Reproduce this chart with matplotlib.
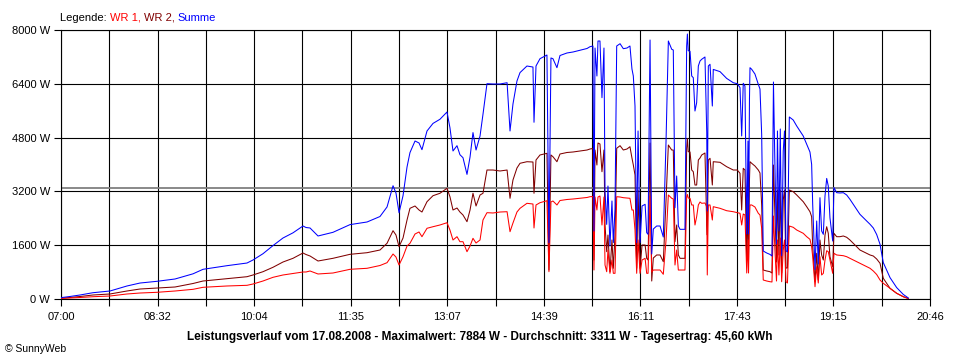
import matplotlib
matplotlib.use("Agg")
import matplotlib.pyplot as plt
from matplotlib.offsetbox import TextArea, HPacker, AnchoredOffsetbox
import numpy as np

# ---- data: minutes after 07:00, power in W ----
minutes = [
    0, 8.6, 18.1, 30.4, 46.6, 62.7, 75.1, 91.2, 108.4, 125.5, 135.0, 157.8, 176.8, 182.5,
    192.0, 201.5, 211.0, 220.5, 230.0, 232.9, 236.7,
    244.3, 258.5, 274.7, 290.9, 303.2, 309.9, 315.6, 318.4, 321.3, 325.1, 328.9, 331.7,
    336.5, 340.3, 343.1, 347.9, 353.6, 360.2, 366.9, 369.7, 372.6, 376.4, 379.2,
    382.1, 385.9, 388.8, 391.6, 394.5, 398.3, 401.1, 404.9, 410.6, 417.3, 424.0, 426.8,
    429.6, 433.4, 436.3, 442.9, 448.6, 449.6, 451.5, 455.3, 461.9, 463.8, 465.7, 467.6,
    471.4, 474.3, 480.9, 486.7, 493.3, 500.0, 502.8, 505.6, 506.6, 507.6,
    509.4, 510.4, 512.3, 514.2, 516.1, 517.1, 518.7, 519.9, 521.8, 523.7, 525.0, 526.6,
    528.2, 531.4, 534.5, 538.0, 540.8, 542.7, 544.0, 545.6, 547.2, 548.5, 550.4, 552.3,
    555.2, 556.7, 558.0, 559.9, 561.5, 563.0, 566.2, 569.4, 572.5, 575.1, 577.3, 580.5,
    582.0, 583.6, 585.2, 586.8, 588.4, 593.1,
    594.7, 595.4, 596.2, 597.9, 599.5, 601.0, 602.6, 604.2, 605.8, 607.4, 609.0, 612.1,
    613.8, 614.3, 615.3, 616.9, 619.1, 620.0, 626.4, 632.7, 639.0, 642.8, 645.4, 647.0,
    648.5, 650.1, 651.8, 653.0, 653.5, 654.4, 654.9, 656.5, 659.6, 662.8, 664.4, 666.0,
    667.5, 670.8, 673.9, 675.8, 677.2, 678.6, 680.1, 681.0, 682.4, 683.7, 685.0, 686.5,
    687.7, 689.1, 690.5, 692.3,
    696.0, 699.3, 702.4, 705.5, 708.8, 711.9, 713.5, 714.5, 716.7, 718.3, 719.8, 721.4,
    723.0, 724.6, 726.2, 727.8, 729.3, 730.9, 733.5, 734.7, 737.3, 740.4, 743.6, 746.8,
    749.9, 753.1, 756.3, 759.4, 762.6, 765.8, 769.0, 772.1, 775.3, 778.5, 781.6, 788.0,
    794.3, 800.6, 805.4,
]

wr1 = [
    20, 30, 45, 68, 89, 149, 178, 199, 238, 288, 348, 387, 407, 446,
    535, 645, 714, 758, 803, 803, 833,
    744, 773, 883, 913, 996, 1080, 1338, 1249, 1011, 1258, 1576, 1657,
    1933, 1993, 1853, 2103, 2150, 2201, 2269, 2052, 1755, 1853, 1704,
    1704, 1407, 1576, 1805, 1665, 1755, 2349, 2567, 2558, 2587, 2596, 2002,
    2260, 2587, 2697, 2846, 2825, 2112, 2796, 2864, 2923, 812, 2885, 2915,
    2796, 2929, 2959, 2974, 2995, 3019, 3042, 3048, 862, 3033,
    2647, 3033, 3063, 2201, 3033, 1011, 812, 1457, 764, 1160, 764, 764,
    3042, 3033, 3013, 3004, 2995, 2647, 2647, 2052, 764, 1755, 764, 1160,
    1210, 764, 764, 3063, 803, 862, 862, 862, 735, 1755, 3093, 2995,
    2974, 1011, 1457, 862, 862, 862,
    3042, 3108, 3004, 2995, 2796, 2796, 2201, 2448, 2796, 2885, 2846, 2855,
    2745, 714, 2796, 2796, 2349, 2745, 2697, 2626, 2596, 2567, 2549, 2201,
    2528, 2498, 773, 1755, 773, 2409, 2796, 2796, 2736, 2549, 2498, 2103,
    565, 535, 514, 506, 2468, 1457, 535, 1755, 714, 1814, 514, 1457,
    1755, 514, 476, 2171,
    2132, 2052, 2002, 1954, 1853, 1775, 1555, 1258, 366, 961, 476, 1258,
    714, 764, 1160, 1436, 1407, 1160, 764, 1359, 1309, 1300, 1288, 1258,
    1210, 1160, 1109, 1062, 1011, 961, 913, 833, 729, 565, 467, 318,
    170, 68, 15,
]

wr2 = [
    20, 45, 74, 119, 149, 238, 297, 327, 357, 461, 535, 604, 663, 714,
    812, 943, 1100, 1210, 1368, 1323, 1279,
    1130, 1210, 1329, 1377, 1457, 1657, 2031, 1903, 1555, 1814, 2349, 2697,
    2766, 2647, 2587, 2894, 3072, 3144, 3292, 3042, 2647, 2706, 2587,
    2498, 2299, 2647, 3144, 2766, 3093, 3144, 3836, 3836, 3807, 3836, 2995,
    3539, 3896, 4036, 4083, 4074, 3144, 4134, 4283, 4333, 862, 4283, 4232,
    4083, 4312, 4357, 4372, 4402, 4431, 4461, 4476, 1160, 4431,
    3985, 4639, 4610, 3786, 4431, 2201, 1407, 1903, 812, 1755, 913, 1903,
    4482, 4559, 4431, 4461, 4529, 4193, 3985, 3688, 913, 3242, 913, 1606,
    1606, 1210, 1160, 4639, 535, 1219, 1309, 1309, 1109, 2944, 4580, 4431,
    4431, 1704, 2201, 1309, 1210, 1210,
    4482, 4773, 4381, 4372, 3836, 3786, 3390, 3390, 4134, 4193, 4283, 4342,
    2201, 1903, 4134, 4184, 3390, 4083, 4065, 3935, 3836, 3836, 3738, 2647,
    3887, 3836, 1160, 2944, 1160, 3539, 4083, 4036, 3955, 3836, 3747, 2796,
    862, 833, 812, 773, 3985, 2498, 1100, 3242, 1309, 3242, 773, 2944,
    3242, 922, 922, 3242,
    3191, 3093, 2995, 2894, 2745, 2596, 2448, 1555, 514, 1359, 565, 1755,
    1309, 1160, 1903, 2150, 1954, 1258, 961, 1954, 1853, 1853, 1874, 1835,
    1755, 1657, 1555, 1457, 1407, 1359, 1309, 1279, 1190, 1062, 616, 318,
    170, 68, 15,
]

summe = [a + b for a, b in zip(wr1, wr2)]

average_w = 3311
x_tick_labels = ['07:00', '08:32', '10:04', '11:35', '13:07', '14:39',
                 '16:11', '17:43', '19:15', '20:46']
total_minutes = 826
y_ticks = [0, 1600, 3200, 4800, 6400, 8000]

title_text = ("Leistungsverlauf vom 17.08.2008 - Maximalwert: 7884 W - "
              "Durchschnitt: 3311 W - Tagesertrag: 45,60 kWh")

# ---- plotting ----
plt.rcParams['font.family'] = ['Liberation Sans', 'DejaVu Sans']
fig = plt.figure(figsize=(9.6, 3.6), dpi=100)
fig.patch.set_facecolor('white')
ax = fig.add_axes([61/960, 61/360, 869/960, 269/360])

ax.set_xlim(0, total_minutes)
ax.set_ylim(0, 8000)

major = [i * total_minutes / 9 for i in range(10)]
minor = [(i + 0.5) * total_minutes / 9 for i in range(9)]
ax.set_xticks(major)
ax.set_xticklabels(x_tick_labels)
ax.set_xticks(minor, minor=True)
ax.set_yticks(y_ticks)
ax.set_yticklabels([f"{v} W" for v in y_ticks])

for v in major + minor:
    ax.axvline(v, color='black', lw=0.8, zorder=1)
for v in y_ticks:
    ax.axhline(v, color='black', lw=0.8, zorder=1)
ax.axhline(average_w, color='#808080', lw=1.3, zorder=1.5)

ax.plot(minutes, wr2, color='#800000', lw=0.75, zorder=2)
ax.plot(minutes, wr1, color='#FF0000', lw=0.75, zorder=3)
ax.plot(minutes, summe, color='#0000FF', lw=0.75, zorder=4)

for s in ax.spines.values():
    s.set_color('black')
    s.set_linewidth(0.8)
ax.tick_params(axis='both', which='both', direction='out', color='black',
               width=0.8, labelsize=8)
ax.tick_params(axis='x', which='both', length=5, pad=4.5)
ax.tick_params(axis='y', which='both', length=5, pad=3)

# legend text (multi-coloured)
parts = [("Legende: ", 'black'), ("WR 1, ", '#FF0000'),
         ("WR 2, ", '#800000'), ("Summe", '#0000FF')]
areas = [TextArea(t, textprops=dict(color=c, fontsize=8)) for t, c in parts]
box = HPacker(children=areas, align='baseline', pad=0, sep=0)
anch = AnchoredOffsetbox(loc='lower left', child=box, pad=0, frameon=False,
                         bbox_to_anchor=(60/960, 1 - 23/360),
                         bbox_transform=fig.transFigure, borderpad=0)
fig.add_artist(anch)

fig.text(480/960, 1 - 337/360, title_text, ha='center', va='center',
         fontsize=8.5, fontweight='bold')
fig.text(5/960, 1 - 349/360, "© SunnyWeb", ha='left', va='center', fontsize=7.5)

fig.savefig('out.png', dpi=100)
